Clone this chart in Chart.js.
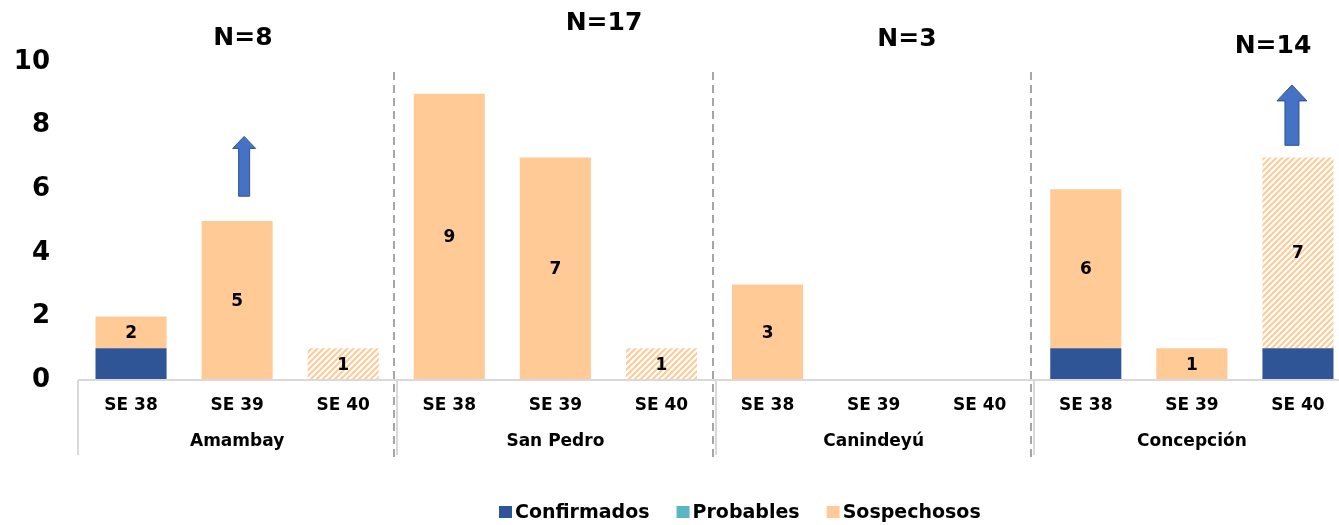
<!DOCTYPE html>
<html>
<head>
<meta charset="utf-8">
<script src="https://cdn.jsdelivr.net/npm/chart.js@4.4.0/dist/chart.umd.min.js"></script>
<style>
  html, body { margin: 0; padding: 0; background: #fff; overflow: hidden; }
  /* the original chart runs a little past the right edge of the picture */
  #wrap { width: 1351px; height: 525px; }
</style>
</head>
<body>
<div id="wrap"><canvas id="chart"></canvas></div>
<script>
// Data
const weeks = ['SE 38', 'SE 39', 'SE 40', 'SE 38', 'SE 39', 'SE 40', 'SE 38', 'SE 39', 'SE 40', 'SE 38', 'SE 39', 'SE 40'];
const departments = ['Amambay', 'San Pedro', 'Canindeyú', 'Concepción'];
const groupTotals = ['N=8', 'N=17', 'N=3', 'N=14'];
const confirmados = [1, 0, 0, 0, 0, 0, 0, 0, 0, 1, 0, 1];
const probables = [0, 0, 0, 0, 0, 0, 0, 0, 0, 0, 0, 0];
const sospechosos = [1, 5, 1, 9, 7, 1, 3, 0, 0, 5, 1, 6];
const partialWeek = [false, false, true, false, false, true, false, false, true, false, false, true];
const yTicks = [0, 2, 4, 6, 8, 10];

const FONT = "'DejaVu Sans', sans-serif";
const BLUE = '#2F5597';
const TEAL = '#5BB6C4';
const PEACH = '#FFCA96';

// hatched fill for the incomplete week
function makeHatch() {
    const c = document.createElement('canvas');
    c.width = 6; c.height = 6;
    const g = c.getContext('2d');
    g.fillStyle = '#fff';
    g.fillRect(0, 0, 6, 6);
    g.strokeStyle = PEACH;
    g.lineWidth = 2;
    g.beginPath();
    g.moveTo(-1, 7); g.lineTo(7, -1);
    g.moveTo(-4, 4); g.lineTo(4, -4);
    g.moveTo(2, 10); g.lineTo(10, 2);
    g.stroke();
    return g.createPattern(c, 'repeat');
}
const hatch = makeHatch();

// totals written in the middle of the sospechosos segment
const totalsPlugin = {
    id: 'totals',
    afterDatasetsDraw(chart) {
        const ctx = chart.ctx;
        const meta = chart.getDatasetMeta(2);
        ctx.save();
        ctx.font = 'bold 17px ' + FONT;
        ctx.fillStyle = '#000';
        ctx.textAlign = 'center';
        ctx.textBaseline = 'middle';
        meta.data.forEach((bar, i) => {
            const total = confirmados[i] + probables[i] + sospechosos[i];
            if (!total || !sospechosos[i]) return;
            const yMid = (bar.y + bar.base) / 2;
            ctx.fillText(String(total), bar.x, yMid + 1);
        });
        ctx.restore();
    }
};

// group labels, table lines, dashed separators, N labels, arrows and legend
const decorPlugin = {
    id: 'decor',
    afterDraw(chart) {
        const ctx = chart.ctx;
        const x = chart.scales.x;
        const y = chart.scales.y;
        const area = chart.chartArea;
        const step = x.getPixelForValue(1) - x.getPixelForValue(0);
        const edge = (i) => x.getPixelForValue(i) - step / 2;
        ctx.save();

        // axis line + table lines
        ctx.strokeStyle = '#D9D9D9';
        ctx.lineWidth = 2;
        ctx.beginPath();
        ctx.moveTo(area.left, area.bottom);
        ctx.lineTo(chart.width, area.bottom);
        for (let g = 0; g < departments.length; g++) {
            const xe = Math.round(edge(g * 3)) + (g === 0 ? 0 : 1);
            ctx.moveTo(xe, area.bottom);
            ctx.lineTo(xe, area.bottom + 75);
        }
        ctx.stroke();

        // dashed separators
        ctx.strokeStyle = '#A6A6A6';
        ctx.setLineDash([8, 5]);
        ctx.beginPath();
        for (let g = 1; g < departments.length; g++) {
            const xe = Math.round(edge(g * 3)) - 2;
            ctx.moveTo(xe, 72);
            ctx.lineTo(xe, 460);
        }
        ctx.stroke();
        ctx.setLineDash([]);

        // department names
        ctx.fillStyle = '#000';
        ctx.font = 'bold 17px ' + FONT;
        ctx.textAlign = 'center';
        ctx.textBaseline = 'middle';
        departments.forEach((d, g) => {
            ctx.fillText(d, x.getPixelForValue(g * 3 + 1), 442);
        });

        // N= labels
        ctx.font = 'bold 25px ' + FONT;
        const nPos = [[243, 38], [604, 23], [907, 39], [1273, 46]];
        groupTotals.forEach((t, g) => ctx.fillText(t, nPos[g][0], nPos[g][1]));

        // up arrows (increase in the partial week)
        const arrows = [
            { idx: 1, from: 5.78, to: 7.66, shaft: 11, head: 23, headLen: 12 },
            { idx: 11, from: 7.38, to: 9.28, shaft: 14, head: 30, headLen: 16 }
        ];
        arrows.forEach(a => {
            const cx = x.getPixelForValue(a.idx) + (a.idx === 11 ? -6 : 7);
            const yb = y.getPixelForValue(a.from);
            const yt = y.getPixelForValue(a.to);
            ctx.beginPath();
            ctx.moveTo(cx - a.shaft / 2, yb);
            ctx.lineTo(cx - a.shaft / 2, yt + a.headLen);
            ctx.lineTo(cx - a.head / 2, yt + a.headLen);
            ctx.lineTo(cx, yt);
            ctx.lineTo(cx + a.head / 2, yt + a.headLen);
            ctx.lineTo(cx + a.shaft / 2, yt + a.headLen);
            ctx.lineTo(cx + a.shaft / 2, yb);
            ctx.closePath();
            ctx.fillStyle = '#4472C4';
            ctx.fill();
            ctx.strokeStyle = '#2F528F';
            ctx.lineWidth = 1;
            ctx.stroke();
        });

        // legend
        ctx.font = 'bold 19px ' + FONT;
        ctx.textAlign = 'left';
        const legendColors = [BLUE, TEAL, PEACH];
        let lx = 499;
        const ly = 512;
        chart.data.datasets.forEach((ds, i) => {
            ctx.fillStyle = legendColors[i];
            ctx.fillRect(lx, ly - 6, 13, 12);
            lx += 16;
            ctx.fillStyle = '#000';
            ctx.fillText(ds.label, lx, ly + 1);
            lx += ctx.measureText(ds.label).width + 27;
        });

        ctx.restore();
    }
};

const barCommon = {
    stack: 's',
    barPercentage: 0.67,
    categoryPercentage: 1.0,
    borderWidth: 0
};

new Chart(document.getElementById('chart'), {
    type: 'bar',
    data: {
        labels: weeks,
        datasets: [
            Object.assign({ label: 'Confirmados', data: confirmados, backgroundColor: BLUE }, barCommon),
            Object.assign({ label: 'Probables', data: probables, backgroundColor: TEAL }, barCommon),
            Object.assign({
                label: 'Sospechosos',
                data: sospechosos,
                backgroundColor: (c) => (c.type === 'data' && partialWeek[c.dataIndex]) ? hatch : PEACH
            }, barCommon)
        ]
    },
    options: {
        responsive: true,
        maintainAspectRatio: false,
        animation: false,
        layout: { padding: { top: 62, left: 0, right: 0, bottom: 0 } },
        plugins: {
            legend: { display: false },
            tooltip: { enabled: false }
        },
        scales: {
            x: {
                stacked: true,
                grid: { display: false },
                border: { display: false },
                ticks: {
                    color: '#000',
                    padding: 7,
                    maxRotation: 0,
                    autoSkip: false,
                    font: { family: FONT, size: 17, weight: 'bold' }
                },
                afterFit: (s) => { s.height = 145; }
            },
            y: {
                stacked: true,
                min: 0,
                max: 10,
                grid: { display: false },
                border: { display: false },
                afterBuildTicks: (s) => { s.ticks = yTicks.map(v => ({ value: v })); },
                ticks: {
                    color: '#000',
                    padding: 20,
                    font: { family: FONT, size: 26, weight: 'bold' }
                },
                afterFit: (s) => { s.width = 78; }
            }
        }
    },
    plugins: [totalsPlugin, decorPlugin]
});
</script>
</body>
</html>
